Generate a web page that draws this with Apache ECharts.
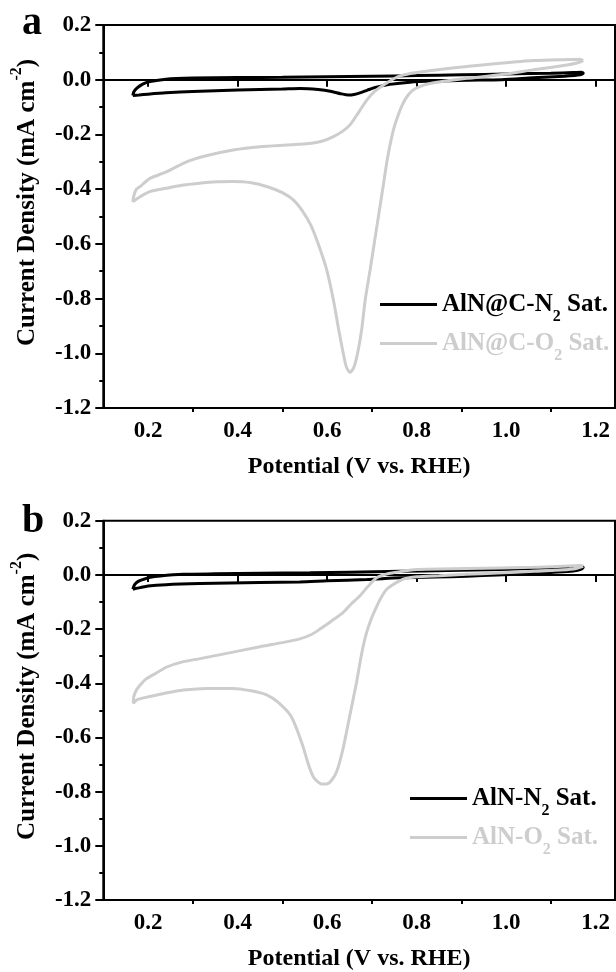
<!DOCTYPE html>
<html>
<head>
<meta charset="utf-8">
<script src="https://cdn.jsdelivr.net/npm/echarts@6/dist/echarts.min.js"></script>
<style>
  html, body { margin: 0; padding: 0; background: #fff; }
  #chart { width: 616px; height: 972px; }
</style>
</head>
<body>
<div id="chart"></div>
<script>
// Cyclic voltammograms: potential (V vs. RHE) and current density (mA cm^-2)

// Panel a: AlN@C in N2- and O2-saturated electrolyte
const aN2Potential = [0.166, 0.168, 0.175, 0.188, 0.204, 0.24, 0.30, 0.40, 0.50, 0.60, 0.70, 0.80, 0.90, 1.00, 1.10, 1.15, 1.168, 1.172,
  1.165, 1.13, 1.06, 0.99, 0.91, 0.84, 0.785, 0.74, 0.71, 0.69, 0.675, 0.66, 0.648, 0.63, 0.61, 0.58, 0.54, 0.50, 0.40, 0.30, 0.24, 0.20, 0.18, 0.166];
const aN2Current = [-0.058, -0.045, -0.031, -0.016, -0.007, 0.002, 0.006, 0.008, 0.009, 0.011, 0.013, 0.015, 0.018, 0.021, 0.024, 0.026, 0.027, 0.024,
  0.018, 0.013, 0.007, 0.000, -0.002, -0.005, -0.009, -0.017, -0.027, -0.038, -0.047, -0.054, -0.056, -0.051, -0.043, -0.036, -0.032, -0.034, -0.038, -0.043, -0.048, -0.053, -0.056, -0.058];

const aO2Potential = [1.172, 1.16, 1.136, 1.06, 0.986, 0.912, 0.86, 0.83, 0.808, 0.79, 0.775, 0.763, 0.748, 0.735, 0.726, 0.711, 0.696, 0.685, 0.677, 0.668, 0.66, 0.651,
  0.643, 0.636, 0.626, 0.614, 0.599, 0.58, 0.563, 0.545, 0.525, 0.50, 0.47, 0.428, 0.39, 0.353, 0.31, 0.279, 0.24, 0.204, 0.185, 0.168, 0.166,
  0.168, 0.174, 0.182, 0.195, 0.205, 0.242, 0.286, 0.33, 0.39, 0.45, 0.52, 0.565, 0.59, 0.614, 0.635, 0.651, 0.67, 0.689, 0.706, 0.726, 0.745, 0.763, 0.80, 0.875, 0.987, 1.061, 1.14, 1.165, 1.172];
const aO2Current = [0.070, 0.062, 0.054, 0.036, 0.018, 0.005, -0.006, -0.014, -0.024, -0.040, -0.070, -0.111, -0.184, -0.285, -0.380, -0.537, -0.695, -0.805, -0.915, -1.0, -1.05, -1.07,
  -1.05, -1.0, -0.915, -0.805, -0.695, -0.600, -0.530, -0.480, -0.440, -0.413, -0.393, -0.376, -0.372, -0.373, -0.379, -0.385, -0.397, -0.409, -0.425, -0.443, -0.447,
  -0.425, -0.400, -0.391, -0.372, -0.360, -0.336, -0.300, -0.278, -0.257, -0.245, -0.238, -0.232, -0.224, -0.208, -0.188, -0.165, -0.120, -0.074, -0.043, -0.019, 0.000, 0.014, 0.026, 0.042, 0.060, 0.070, 0.074, 0.075, 0.070];

// Panel b: AlN in N2- and O2-saturated electrolyte
const bN2Potential = [0.166, 0.170, 0.178, 0.189, 0.205, 0.227, 0.279, 0.35, 0.45, 0.562, 0.65, 0.763, 0.87, 0.987, 1.08, 1.14, 1.166, 1.172,
  1.168, 1.15, 1.10, 1.061, 0.98, 0.912, 0.84, 0.763, 0.689, 0.60, 0.539, 0.45, 0.316, 0.24, 0.20, 0.182, 0.166];
const bN2Current = [-0.053, -0.036, -0.024, -0.017, -0.009, -0.004, 0.002, 0.004, 0.006, 0.008, 0.010, 0.013, 0.016, 0.020, 0.025, 0.029, 0.032, 0.028,
  0.021, 0.014, 0.009, 0.005, 0.000, -0.005, -0.008, -0.011, -0.017, -0.022, -0.026, -0.028, -0.032, -0.036, -0.041, -0.047, -0.053];

const bO2Potential = [1.172, 1.15, 1.10, 1.061, 0.98, 0.912, 0.85, 0.80, 0.775, 0.763, 0.748, 0.733, 0.722, 0.711, 0.698, 0.686, 0.676, 0.666, 0.651, 0.636, 0.622, 0.61, 0.598, 0.588,
  0.578, 0.569, 0.558, 0.547, 0.53, 0.517, 0.49, 0.465, 0.43, 0.39, 0.33, 0.279, 0.24, 0.204, 0.175, 0.167,
  0.168, 0.174, 0.182, 0.195, 0.21, 0.242, 0.275, 0.316, 0.39, 0.45, 0.50, 0.539, 0.565, 0.584, 0.61, 0.636, 0.655, 0.673, 0.69, 0.711, 0.73, 0.748, 0.80, 0.912, 1.061, 1.14, 1.166, 1.172];
const bO2Current = [0.032, 0.022, 0.016, 0.013, 0.007, 0.002, -0.003, -0.007, -0.013, -0.021, -0.035, -0.053, -0.080, -0.115, -0.165, -0.225, -0.300, -0.394, -0.516, -0.638, -0.723, -0.758, -0.772, -0.772,
  -0.762, -0.745, -0.699, -0.638, -0.560, -0.516, -0.470, -0.443, -0.428, -0.419, -0.419, -0.425, -0.436, -0.449, -0.461, -0.474,
  -0.450, -0.425, -0.407, -0.385, -0.370, -0.340, -0.322, -0.309, -0.285, -0.265, -0.250, -0.236, -0.220, -0.200, -0.170, -0.138, -0.105, -0.078, -0.045, -0.010, 0.002, 0.008, 0.020, 0.0235, 0.028, 0.033, 0.035, 0.032];

// Axis ticks and labels
const potentialMajor = [0.2, 0.4, 0.6, 0.8, 1.0, 1.2];
const potentialMinor = [0.3, 0.5, 0.7, 0.9, 1.1];
const potentialRange = [0.1, 1.243];
const currentRange = [-1.2, 0.2];

const seriesNames = ['AlN@C-N2 Sat.', 'AlN@C-O2 Sat.', 'AlN-N2 Sat.', 'AlN-O2 Sat.'];
const legendRich = {
  'AlN@C-N2 Sat.': '{t|AlN@C-N}{s|2}{t| Sat.}',
  'AlN@C-O2 Sat.': '{t|AlN@C-O}{s|2}{t| Sat.}',
  'AlN-N2 Sat.': '{t|AlN-N}{s|2}{t| Sat.}',
  'AlN-O2 Sat.': '{t|AlN-O}{s|2}{t| Sat.}'
};

const SERIF = '"Liberation Serif", "Times New Roman", serif';
const BLACK = '#000000';
const GREY = '#cdcdcd';

const pairs = (xs, ys) => xs.map((x, i) => [x, ys[i]]);

const grids = [
  { left: 103.3, top: 25, right: 1, height: 383 },
  { left: 103.3, top: 520.7, right: 1, height: 383 }
];

// t: main text, s: subscript, p: superscript
function richText(color, size) {
  return {
    t: { fontFamily: SERIF, fontWeight: 'bold', fontSize: size, lineHeight: 30, color: color },
    s: { fontFamily: SERIF, fontWeight: 'bold', fontSize: 16, lineHeight: 40, verticalAlign: 'bottom', color: color },
    p: { fontFamily: SERIF, fontWeight: 'bold', fontSize: 16, lineHeight: 36, verticalAlign: 'top', color: color }
  };
}

function mainXAxis(gridIndex) {
  return {
    type: 'value', gridIndex: gridIndex, position: 'bottom',
    min: potentialRange[0], max: potentialRange[1],
    name: 'Potential (V vs. RHE)', nameLocation: 'middle', nameGap: 47,
    nameTextStyle: { fontFamily: SERIF, fontWeight: 'bold', fontSize: 24, color: BLACK },
    axisLine: { show: true, lineStyle: { color: BLACK, width: 2 } },
    axisTick: { show: true, length: 7, customValues: potentialMajor, lineStyle: { color: BLACK, width: 2 } },
    axisLabel: {
      show: true, margin: 12, customValues: potentialMajor,
      fontFamily: SERIF, fontWeight: 'bold', fontSize: 23, color: BLACK,
      formatter: v => v.toFixed(1)
    },
    splitLine: { show: false }
  };
}

function minorXAxis(gridIndex) {
  return {
    type: 'value', gridIndex: gridIndex, position: 'bottom',
    min: potentialRange[0], max: potentialRange[1],
    axisLine: { show: false },
    axisTick: { show: true, length: 4, customValues: potentialMinor, lineStyle: { color: BLACK, width: 2 } },
    axisLabel: { show: false },
    splitLine: { show: false }
  };
}

function currentYAxis(gridIndex) {
  return {
    type: 'value', gridIndex: gridIndex,
    min: currentRange[0], max: currentRange[1], interval: 0.2,
    name: '{t|Current Density (mA cm}{p|-2}{t|)}',
    nameLocation: 'middle', nameRotate: 90, nameGap: 58,
    nameTextStyle: { rich: richText(BLACK, 25), padding: [0, 0, 0, 28] },
    axisLine: { show: true, lineStyle: { color: BLACK, width: 2 } },
    axisTick: { show: true, length: 8, lineStyle: { color: BLACK, width: 2 } },
    minorTick: { show: true, splitNumber: 2, length: 4, lineStyle: { color: BLACK, width: 2 } },
    axisLabel: {
      margin: 12, fontFamily: SERIF, fontWeight: 'bold', fontSize: 23, color: BLACK,
      formatter: v => v.toFixed(1)
    },
    splitLine: { show: false }
  };
}

function cvSeries(name, xs, ys, color, xIdx, yIdx) {
  return {
    name: name, type: 'line', xAxisIndex: xIdx, yAxisIndex: yIdx,
    data: pairs(xs, ys), symbol: 'none', smooth: 0.25,
    lineStyle: { color: color, width: 3 }, itemStyle: { color: color },
    animation: false
  };
}

function legendItem(name, color, left, top) {
  return {
    data: [name], left: left, top: top, orient: 'vertical', padding: 0,
    icon: 'rect', itemWidth: 57, itemHeight: 3, itemGap: 0,
    itemStyle: { color: color, borderWidth: 0 },
    formatter: n => legendRich[n],
    textStyle: { color: color, rich: richText(color, 25) },
    selectedMode: false
  };
}

const chart = echarts.init(document.getElementById('chart'), null, { renderer: 'canvas' });
chart.setOption({
  backgroundColor: '#ffffff',
  animation: false,
  grid: grids.map(g => Object.assign({ show: true, borderColor: BLACK, borderWidth: 2, backgroundColor: 'transparent' }, g)),
  xAxis: [mainXAxis(0), minorXAxis(0), mainXAxis(1), minorXAxis(1)],
  yAxis: [currentYAxis(0), currentYAxis(1)],
  legend: [
    legendItem(seriesNames[0], BLACK, 380, 292),
    legendItem(seriesNames[1], GREY, 380, 331),
    legendItem(seriesNames[2], BLACK, 410, 786),
    legendItem(seriesNames[3], GREY, 410, 825)
  ],
  graphic: [
    { type: 'text', left: 22, top: 4, style: { text: 'a', font: 'bold 40px ' + SERIF, fill: BLACK } },
    { type: 'text', left: 22, top: 502, style: { text: 'b', font: 'bold 40px ' + SERIF, fill: BLACK } }
  ],
  series: [
    cvSeries(seriesNames[0], aN2Potential, aN2Current, BLACK, 0, 0),
    cvSeries(seriesNames[1], aO2Potential, aO2Current, GREY, 0, 0),
    cvSeries(seriesNames[2], bN2Potential, bN2Current, BLACK, 2, 1),
    cvSeries(seriesNames[3], bO2Potential, bO2Current, GREY, 2, 1)
  ]
});
</script>
</body>
</html>
